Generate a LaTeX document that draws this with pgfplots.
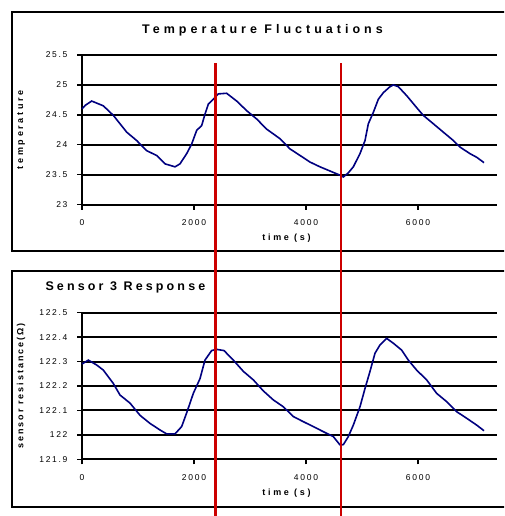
\documentclass[border=0pt]{standalone}
\usepackage{fontspec}
\setmainfont{Liberation Sans}
\usepackage{pgfplots}
\pgfplotsset{compat=1.18}
\definecolor{curve}{RGB}{0,0,128}
\definecolor{redline}{RGB}{204,0,0}
\newcommand\tickfont{\fontsize{8.5}{9}\selectfont\addfontfeature{LetterSpace=20}}
\newcommand\labfont{\fontsize{9}{10}\selectfont\bfseries\addfontfeature{LetterSpace=30}}
\pgfplotsset{
  myax/.style={
    scale only axis, width=415pt,
    xmin=0, xmax=7411,
    axis lines=left, axis line style={-, line width=2pt, black},
    ymajorgrids, major grid style={black, line width=2pt},
    tick align=outside, major tick length=5pt,
    tick style={black, line width=1.4pt},
    xtick={0,2000,4000,6000},
    scaled x ticks=false,
    /pgf/number format/1000 sep={},
    /pgf/number format/assume math mode=true,
    ticklabel style={font=\tickfont, black},
    yticklabel style={xshift=-6pt},
    xticklabel style={yshift=-6.5pt},
    every axis y label/.style={at={(rel axis cs:0,0.5)}, xshift=-61pt, rotate=90, anchor=center, font=\labfont},
    every axis x label/.style={at={(rel axis cs:0.5,0)}, yshift=-34pt, xshift=-3pt, anchor=center, font=\labfont},
    clip=false,
  }
}
\begin{document}
\begin{tikzpicture}
\useasboundingbox (0pt,0pt) rectangle (504pt,-516pt);
\clip (0pt,0pt) rectangle (504pt,-516pt);
\fill[white] (0pt,0pt) rectangle (504pt,-516pt);
\draw[line width=1.8pt] (12pt,-12pt) rectangle (540pt,-250.7pt);
\draw[line width=1.8pt] (12pt,-270.7pt) rectangle (540pt,-506.7pt);
\begin{axis}[myax, at={(82pt,-204.5pt)}, anchor=south west, height=149.5pt,
  ymin=23, ymax=25.5, ytick={23,23.5,24,24.5,25,25.5},
  xlabel={time (s)}, ylabel={temperature}]
\addplot[curve, line width=1.6pt] coordinates {
(0,24.60) (60,24.66) (173,24.73) (381,24.65) (560,24.49) (798,24.21) (976,24.07)
(1155,23.90) (1333,23.82) (1482,23.68) (1661,23.63) (1750,23.68) (1869,23.85)
(1958,24.01) (2048,24.24) (2137,24.32) (2196,24.51) (2256,24.68) (2375,24.79)
(2435,24.85) (2583,24.86) (2762,24.73) (2940,24.57) (3119,24.43) (3298,24.26)
(3536,24.10) (3714,23.93) (3893,23.82) (4071,23.71) (4250,23.63) (4429,23.56)
(4607,23.49) (4667,23.46) (4756,23.53) (4845,23.63) (4964,23.85) (5054,24.07)
(5113,24.35) (5202,24.54) (5292,24.76) (5381,24.87) (5500,24.97) (5560,25.00)
(5649,24.97) (5798,24.82) (5976,24.62) (6095,24.49) (6274,24.35) (6452,24.21)
(6631,24.07) (6750,23.96) (6929,23.85) (7048,23.79) (7179,23.70)
};
\node[font=\fontsize{12.5}{14}\selectfont\bfseries\addfontfeature{LetterSpace=32}, anchor=center]
  at ([xshift=-27pt, yshift=25pt]rel axis cs:0.5,1) {Temperature Fluctuations};
\end{axis}
\begin{axis}[myax, at={(82pt,-459.3pt)}, anchor=south west, height=146.6pt,
  ymin=121.9, ymax=122.5, ytick={121.9,122,122.1,122.2,122.3,122.4,122.5},
  yticklabels={121.9,122,122.1,122.2,122.3,122.4,122.5},
  xlabel={time (s)}, ylabel={\addfontfeature{LetterSpace=22}sensor resistance(Ω)}]
\addplot[curve, line width=1.6pt] coordinates {
(0,122.29) (113,122.306) (262,122.286) (381,122.265) (560,122.21) (679,122.163)
(857,122.13) (1036,122.08) (1214,122.047) (1393,122.02) (1512,122.004)
(1661,122.004) (1780,122.034) (1869,122.09) (1988,122.17) (2107,122.23)
(2196,122.306) (2315,122.345) (2405,122.35) (2536,122.345) (2702,122.306)
(2881,122.26) (3060,122.225) (3238,122.18) (3417,122.143) (3595,122.115)
(3774,122.075) (3952,122.054) (4131,122.034) (4310,122.013) (4488,121.993)
(4607,121.959) (4667,121.96) (4756,121.993) (4845,122.04) (4964,122.115)
(5054,122.19) (5143,122.26) (5232,122.334) (5321,122.368) (5440,122.395)
(5560,122.375) (5708,122.347) (5827,122.306) (5976,122.265) (6155,122.225)
(6333,122.17) (6512,122.136) (6690,122.095) (6869,122.068) (7048,122.04)
(7179,122.017)
};
\node[font=\fontsize{12.5}{14}\selectfont\bfseries\addfontfeature{LetterSpace=25}, anchor=west]
  at ([xshift=-40pt, yshift=25.7pt]rel axis cs:0,1) {Sensor 3 Response};
\draw[redline, line width=3.5pt] (axis cs:2385,121.652) -- (axis cs:2385,123.523);
\draw[redline, line width=2pt] (axis cs:4627,121.652) -- (axis cs:4627,123.523);
\end{axis}
\end{tikzpicture}
\end{document}
